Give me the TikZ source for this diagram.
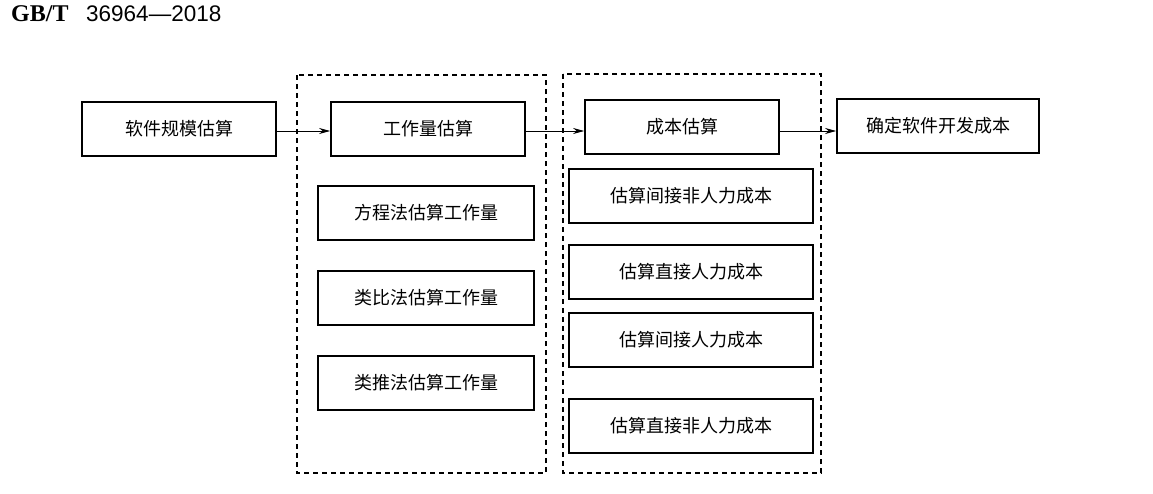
\documentclass[tikz,border=0pt]{standalone}
\usepackage{fontspec}
\setmainfont{Liberation Serif}
\newfontfamily\cjk{Noto Sans CJK SC}
\newfontfamily\hsans{Liberation Sans}
\usetikzlibrary{arrows.meta,calc}
\begin{document}
\begin{tikzpicture}[x=1pt,y=-1pt,
  stepbox/.style={draw,line width=1.8pt,inner sep=0pt,font=\cjk\fontsize{18}{18}\selectfont},
  group/.style={draw,line width=1.3pt,dash pattern=on 5pt off 4pt},
  flow/.style={line width=0.8pt,-{Stealth[length=11pt,width=6pt]}}]
\useasboundingbox (0,0) rectangle (1153,493);
% header
\node[anchor=base west,inner sep=0pt,font=\bfseries\fontsize{24}{24}\selectfont] (gb) at (11,21) {GB/T};
\node[anchor=base west,inner sep=0pt,font=\hsans\fontsize{22.5}{22.5}\selectfont] (num) at (86,21) {36964—2018};
% dashed groups
\draw[group] (297,75) rectangle (546,473);
\draw[group] (563,74) rectangle (821,473);
% main row
\node[stepbox,minimum width=194pt,minimum height=54pt] (b1) at (179,129) {软件规模估算};
\node[stepbox,minimum width=194pt,minimum height=54pt] (b2) at (428,129) {工作量估算};
\node[stepbox,minimum width=194pt,minimum height=54pt] (b3) at (682,127) {成本估算};
\node[stepbox,minimum width=202pt,minimum height=54pt] (b4) at (938,126) {确定软件开发成本};
% left group
\node[stepbox,minimum width=216pt,minimum height=54pt] (l1) at (426,213) {方程法估算工作量};
\node[stepbox,minimum width=216pt,minimum height=54pt] (l2) at (426,298) {类比法估算工作量};
\node[stepbox,minimum width=216pt,minimum height=54pt] (l3) at (426,383) {类推法估算工作量};
% right group
\node[stepbox,minimum width=244pt,minimum height=54pt] (r1) at (691,196) {估算间接非人力成本};
\node[stepbox,minimum width=244pt,minimum height=54pt] (r2) at (691,272) {估算直接人力成本};
\node[stepbox,minimum width=244pt,minimum height=54pt] (r3) at (691,340) {估算间接人力成本};
\node[stepbox,minimum width=244pt,minimum height=54pt] (r4) at (691,426) {估算直接非人力成本};
% connectors
\draw[flow] ($(b1.east)+(0,2)$) -- ($(b1.east -| b2.west)+(0,2)$);
\draw[flow] ($(b2.east)+(0,2)$) -- ($(b2.east -| b3.west)+(0,2)$);
\draw[flow] ($(b3.east)+(0,4)$) -- ($(b3.east -| b4.west)+(0,4)$);
\end{tikzpicture}
\end{document}
